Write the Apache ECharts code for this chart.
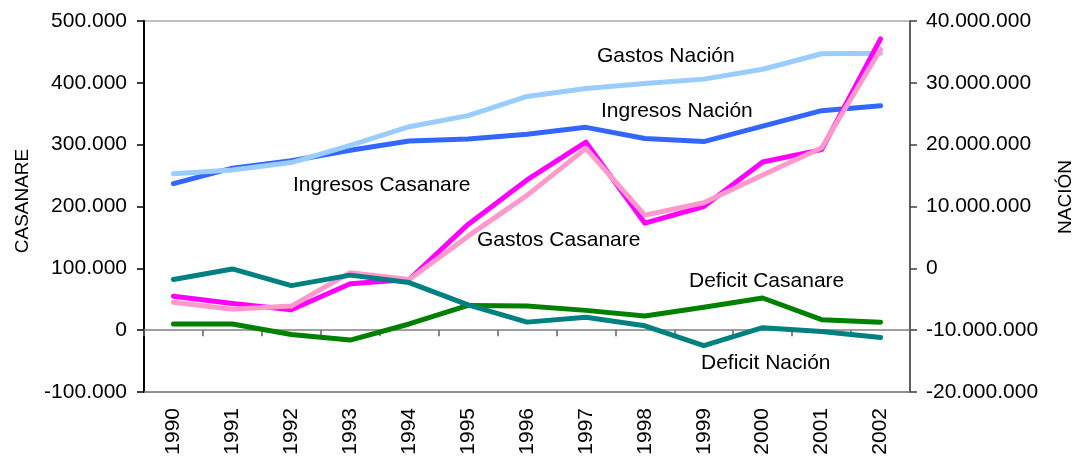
<!DOCTYPE html>
<html>
<head>
<meta charset="utf-8">
<script src="https://cdn.jsdelivr.net/npm/echarts@6/dist/echarts.min.js"></script>
<style>
html,body{margin:0;padding:0;background:#fff;}
#chart{width:1075px;height:458px;}
</style>
</head>
<body>
<div id="chart"></div>
<script>
const years = ['1990','1991','1992','1993','1994','1995','1996','1997','1998','1999','2000','2001','2002'];
// Casanare (left axis)
const ingresosCasanare = [55000, 43000, 33000, 75000, 82000, 171000, 243000, 304000, 173000, 200000, 272000, 292000, 471000];
const gastosCasanare   = [45000, 34000, 39000, 93000, 82000, 152000, 218000, 294000, 186000, 206000, 251000, 295000, 454000];
const deficitCasanare  = [10000, 10000, -7000, -16000, 10000, 40000, 39000, 32000, 23000, 37000, 52000, 17000, 13000];
// Nación (right axis)
const ingresosNacion = [13700000, 16200000, 17400000, 19100000, 20600000, 20900000, 21700000, 22800000, 21000000, 20500000, 23000000, 25500000, 26300000];
const gastosNacion   = [15300000, 15900000, 17100000, 19900000, 22900000, 24700000, 27800000, 29100000, 29900000, 30600000, 32200000, 34700000, 34800000];
const deficitNacion  = [-1800000, -100000, -2800000, -1100000, -2300000, -5900000, -8700000, -7900000, -9300000, -12500000, -9600000, -10200000, -11200000];

const FONT = 'Liberation Sans, Arial, sans-serif';
function fmt(v){
  const s = String(Math.abs(v)).replace(/\B(?=(\d{3})+(?!\d))/g, '.');
  return (v < 0 ? '-' : '') + s;
}
const chart = echarts.init(document.getElementById('chart'), null, {renderer:'canvas'});
function line(name, data, color, yIdx){
  return {name, type:'line', data, xAxisIndex:0, yAxisIndex:yIdx, symbol:'none',
    lineStyle:{color, width:5, cap:'round', join:'round'}, itemStyle:{color}, z:2};
}
const option = {
  animation:false,
  backgroundColor:'#ffffff',
  textStyle:{fontFamily:FONT, color:'#000'},
  grid:{left:144, right:165, top:21, bottom:66, containLabel:false, outerBoundsMode:'none',
        show:true, borderColor:'#808080', borderWidth:1, backgroundColor:'transparent'},
  xAxis:[
    {type:'category', data:years, position:'bottom', boundaryGap:true,
     axisLine:{show:true, onZero:false, lineStyle:{color:'#808080', width:1.5}},
     axisTick:{show:false},
     axisLabel:{rotate:90, margin:16, fontSize:21, color:'#000', fontFamily:FONT},
     splitLine:{show:false}},
    {type:'category', data:years, position:'bottom', boundaryGap:true,
     axisLine:{show:true, onZero:true, onZeroAxisIndex:0, lineStyle:{color:'#808080', width:1.5}},
     axisTick:{show:true, length:6, lineStyle:{color:'#606060', width:1.5}},
     axisLabel:{show:false}, splitLine:{show:false}}
  ],
  yAxis:[
    {type:'value', position:'left', min:-100000, max:500000, interval:100000,
     name:'CASANARE', nameLocation:'middle', nameRotate:90, nameGap:112,
     nameTextStyle:{fontSize:19, color:'#000', fontFamily:FONT, padding:[0,0,0,11]},
     axisLine:{show:true, lineStyle:{color:'#000', width:2}},
     axisTick:{show:true, length:7, lineStyle:{color:'#000', width:1.5}},
     axisLabel:{formatter:fmt, fontSize:21, color:'#000', margin:17, fontFamily:FONT},
     splitLine:{show:false}},
    {type:'value', position:'right', min:-20000000, max:40000000, interval:10000000,
     name:'NACIÓN', nameLocation:'middle', nameRotate:90, nameGap:146,
     nameTextStyle:{fontSize:19, color:'#000', fontFamily:FONT, padding:[0,0,0,19]},
     axisLine:{show:true, lineStyle:{color:'#404040', width:1.5}},
     axisTick:{show:true, length:7, lineStyle:{color:'#404040', width:1.5}},
     axisLabel:{formatter:fmt, fontSize:21, color:'#000', margin:16, fontFamily:FONT},
     splitLine:{show:false}}
  ],
  series:[
    line('Ingresos Nación', ingresosNacion, '#3366FF', 1),
    line('Gastos Nación', gastosNacion, '#99CCFF', 1),
    line('Ingresos Casanare', ingresosCasanare, '#FF00FF', 0),
    line('Gastos Casanare', gastosCasanare, '#FF99CC', 0),
    line('Deficit Casanare', deficitCasanare, '#008000', 0),
    line('Deficit Nación', deficitNacion, '#008080', 1)
  ],
  graphic:[
    ['Gastos Nación', 597, 58],
    ['Ingresos Nación', 601, 113],
    ['Ingresos Casanare', 293, 187],
    ['Gastos Casanare', 477, 242],
    ['Deficit Casanare', 689, 283],
    ['Deficit Nación', 701, 365]
  ].map(([t,x,y]) => ({type:'text', left:x, top:y-12, z:10,
     style:{text:t, fontSize:21, fontFamily:FONT, fill:'#000'}}))
};
chart.setOption(option);
</script>
</body>
</html>
